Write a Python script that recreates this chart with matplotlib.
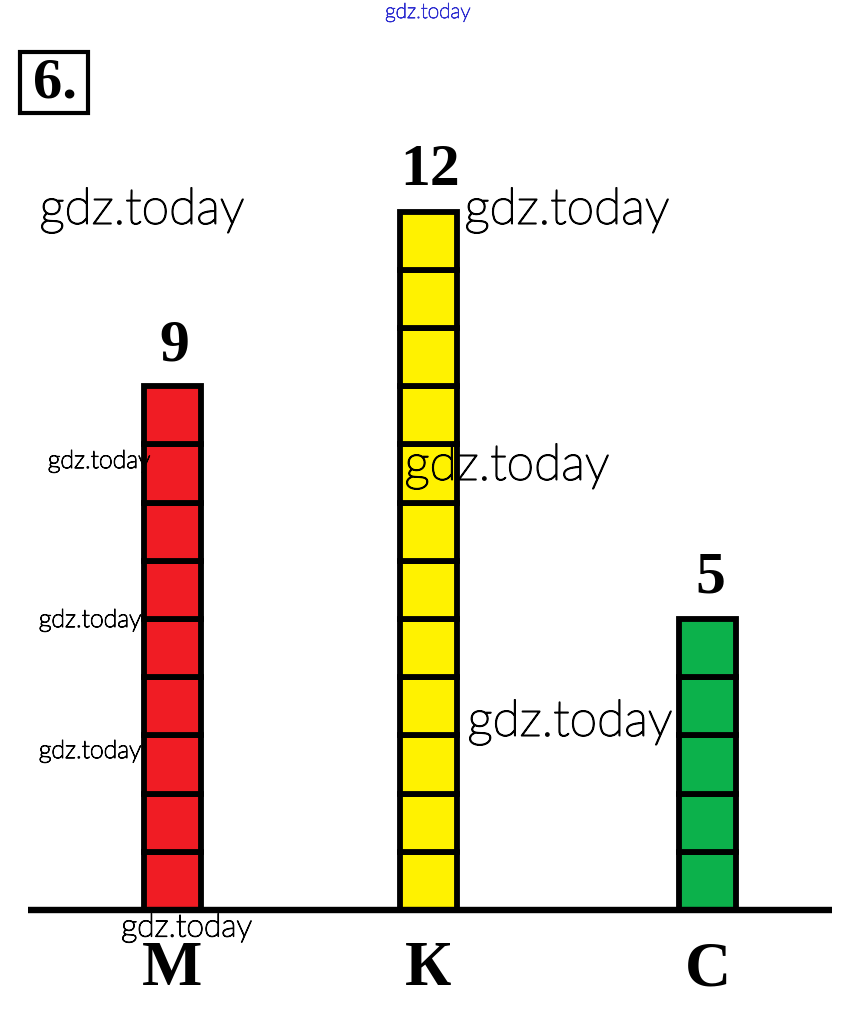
import matplotlib.pyplot as plt
import matplotlib.patheffects as pe
from matplotlib.patches import Rectangle

# data
categories = ['М', 'К', 'С']
counts = [9, 12, 5]
colors = ['#f01c24', '#fff200', '#0cb14b']

# layout (pixel-ish x, y in squares)
W, H = 856, 1009
BASE_PX = 910
UNIT = 58.2
centers = [172.5, 428.5, 708]
bar_w = 57

fig = plt.figure(figsize=(W / 100, H / 100), dpi=100)
ax = fig.add_axes([0, 0, 1, 1])
ax.set_xlim(0, W)
ax.set_ylim(-(H - BASE_PX) / UNIT, BASE_PX / UNIT)
ax.axis('off')

def py(p):
    # pixel row from top -> data y
    return (BASE_PX - p) / UNIT

serif = 'Liberation Serif'

for cat, n, col, cx in zip(categories, counts, colors, centers):
    for i in range(n):
        ax.add_patch(Rectangle((cx - bar_w / 2, i), bar_w, 1, facecolor=col,
                               edgecolor='black', linewidth=4.2, zorder=2))
    ax.text(cx + 2, n + 0.69, str(n), ha='center', va='center',
            fontsize=43, fontweight='bold', family=serif, zorder=3)
    ax.text(cx, py(970), cat, ha='center', va='center',
            fontsize=46, fontweight='bold', family=serif, zorder=3)

ax.plot([28, 832], [0, 0], color='black', linewidth=4.6, zorder=4,
        solid_capstyle='butt')

# task number in a box
ax.add_patch(Rectangle((20, py(113)), 68, 61 / UNIT, facecolor='none',
                       edgecolor='black', linewidth=3, zorder=3))
ax.text(55, py(84), '6.', ha='center', va='center', fontsize=42,
        fontweight='bold', family=serif, zorder=3)

# watermarks
marks = [
    (142, 210, 36), (567, 210, 36), (507, 466, 36), (570, 722, 36),
    (99, 461, 18), (90, 620, 18), (90, 751, 18), (187, 928, 23),
]
for x, y, s in marks:
    ax.text(x, py(y), 'gdz.today', ha='center', va='center', fontsize=s,
            family='Lato', fontweight='light', color='black', zorder=5,
            path_effects=[pe.withStroke(linewidth=0.5 + s / 60, foreground='black')])
ax.text(428, py(12), 'gdz.today', ha='center', va='center', fontsize=15,
        family='Lato', fontweight='light', color='#2f2fd0', zorder=5,
        path_effects=[pe.withStroke(linewidth=0.6, foreground='#2f2fd0')])

fig.savefig('out.png', dpi=100, facecolor='white')
